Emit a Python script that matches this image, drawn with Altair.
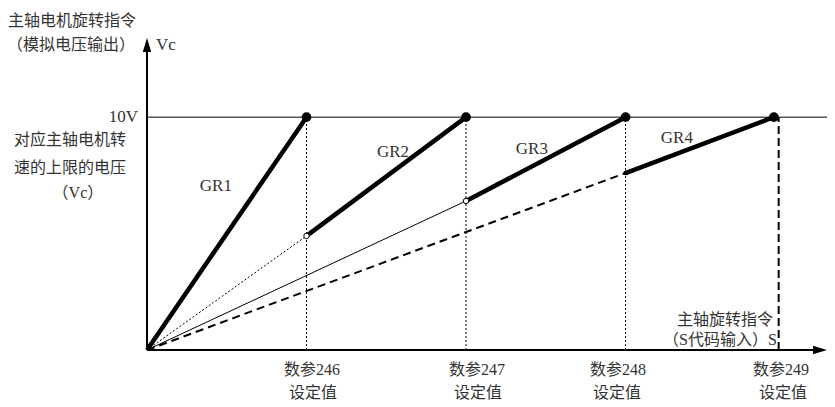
import altair as alt
import pandas as pd

# ---- data (x: spindle speed units, y: volts) ----
setting_labels = ["数参246", "数参247", "数参248", "数参249"]
setting_x = [1000, 2000, 3000, 3960]
gear_names = ["GR1", "GR2", "GR3", "GR4"]
gear_start_x = [0, 1000, 2000, 3000]
gear_end_x = [1000, 2000, 3000, 3930]
gear_start_v = [0.0, 4.9, 6.4, 7.6]
v_top = 10
x_max = 4263
y_max = 13.4

gear_label_x = [432, 1542, 2413, 3322]
gear_label_v = [7.04, 8.5, 8.63, 9.1]
setting_label_x = [1034, 2069, 2952, 3974]
setting_sub_x = [1040, 2075, 2946, 3987]

FONT = "Liberation Serif, Noto Sans CJK SC"

xs = alt.Scale(domain=[0, x_max], nice=False, zero=False)
ys = alt.Scale(domain=[0, y_max], nice=False, zero=False)


def enc_seg(ch):
    return ch.encode(
        x=alt.X("x:Q", scale=xs, axis=None),
        y=alt.Y("y:Q", scale=ys, axis=None),
        x2="x2:Q",
        y2="y2:Q",
    )


# gear segments
gears = pd.DataFrame({
    "x": gear_start_x, "y": gear_start_v,
    "x2": gear_end_x, "y2": [v_top] * 4,
})

# guide lines from origin
guides = pd.DataFrame({
    "x": [0, 0, 0], "y": [0, 0, 0],
    "x2": gear_start_x[1:], "y2": gear_start_v[1:],
    "style": ["dot", "thin", "dash"],
})

verts = pd.DataFrame({
    "x": setting_x, "y": [0] * 4, "x2": setting_x, "y2": [v_top] * 4,
    "style": ["dot", "dot", "dot", "dash"],
})

top_line = pd.DataFrame({"x": [0], "y": [v_top], "x2": [x_max], "y2": [v_top]})
axes = pd.DataFrame({"x": [0, 0], "y": [0, 0], "x2": [0, x_max - 60], "y2": [y_max - 0.4, 0]})

layers = []
layers.append(enc_seg(alt.Chart(top_line).mark_rule(color="#555555", strokeWidth=1.5)))
layers.append(enc_seg(alt.Chart(verts[verts["style"] == "dot"]).mark_rule(
    color="black", strokeWidth=1, strokeDash=[2, 2])))
layers.append(enc_seg(alt.Chart(verts[verts["style"] == "dash"]).mark_rule(
    color="black", strokeWidth=2, strokeDash=[8, 4])))
layers.append(enc_seg(alt.Chart(guides[guides["style"] == "dot"]).mark_rule(
    color="black", strokeWidth=1, strokeDash=[2, 2])))
layers.append(enc_seg(alt.Chart(guides[guides["style"] == "thin"]).mark_rule(
    color="black", strokeWidth=1)))
layers.append(enc_seg(alt.Chart(guides[guides["style"] == "dash"]).mark_rule(
    color="black", strokeWidth=2, strokeDash=[8, 5])))
layers.append(enc_seg(alt.Chart(gears).mark_rule(color="black", strokeWidth=4.5)))
layers.append(enc_seg(alt.Chart(axes).mark_rule(color="black", strokeWidth=2)))

# arrow heads
arr_up = pd.DataFrame({"x": [0], "y": [y_max]})
arr_right = pd.DataFrame({"x": [x_max], "y": [0]})
layers.append(alt.Chart(arr_up).mark_point(
    shape="M0,0L0.6,2L-0.6,2Z", size=196, filled=True, color="black", opacity=1
).encode(x=alt.X("x:Q", scale=xs, axis=None), y=alt.Y("y:Q", scale=ys, axis=None)))
layers.append(alt.Chart(arr_right).mark_point(
    shape="M0,0L-2,-0.6L-2,0.6Z", size=196, filled=True, color="black", opacity=1
).encode(x=alt.X("x:Q", scale=xs, axis=None), y=alt.Y("y:Q", scale=ys, axis=None)))

# end dots
ends = pd.DataFrame({"x": gear_end_x, "y": [v_top] * 4})
layers.append(alt.Chart(ends).mark_point(
    shape="circle", size=95, filled=True, color="black", opacity=1
).encode(x=alt.X("x:Q", scale=xs, axis=None), y=alt.Y("y:Q", scale=ys, axis=None)))
opens = pd.DataFrame({"x": gear_start_x[1:3], "y": gear_start_v[1:3]})
layers.append(alt.Chart(opens).mark_point(
    shape="circle", size=30, filled=True, fill="white", stroke="black", strokeWidth=1, opacity=1
).encode(x=alt.X("x:Q", scale=xs, axis=None), y=alt.Y("y:Q", scale=ys, axis=None)))
small = pd.DataFrame({"x": gear_start_x[3:], "y": gear_start_v[3:]})
layers.append(alt.Chart(small).mark_point(
    shape="circle", size=20, filled=True, color="black", opacity=1
).encode(x=alt.X("x:Q", scale=xs, axis=None), y=alt.Y("y:Q", scale=ys, axis=None)))

# texts
center_txt = pd.DataFrame({
    "x": [-470, -476, -483, -483, -433] + setting_label_x + setting_sub_x,
    "y": [14.13, 13.10, 9.02, 7.82, 6.74] + [-0.86] * 4 + [-1.85] * 4,
    "t": ["主轴电机旋转指令", "（模拟电压输出）", "对应主轴电机转", "速的上限的电压", "（Vc）"]
         + setting_labels + ["设定值"] * 4,
})
gear_txt = pd.DataFrame({"x": gear_label_x, "y": gear_label_v, "t": gear_names})
right_txt = pd.DataFrame({
    "x": [-56, 3924, 3949], "y": [10.0, 1.29, 0.43],
    "t": ["10V", "主轴旋转指令", "（S代码输入）S"],
    "s": [17, 16, 16],
})
left_txt = pd.DataFrame({"x": [56], "y": [13.10], "t": ["Vc"]})


def txt(df, **kw):
    return alt.Chart(df).mark_text(font=FONT, color="#333333", baseline="middle", **kw).encode(
        x=alt.X("x:Q", scale=xs, axis=None),
        y=alt.Y("y:Q", scale=ys, axis=None),
        text="t:N",
    )


layers.append(txt(center_txt, align="center", fontSize=16))
layers.append(txt(gear_txt, align="center", fontSize=17))
layers.append(txt(right_txt[right_txt["s"] == 17], align="right", fontSize=17))
layers.append(txt(right_txt[right_txt["s"] == 16], align="right", fontSize=16))
layers.append(txt(left_txt, align="left", fontSize=17))

chart = alt.layer(*layers).properties(
    width=680,
    height=312,
    autosize=alt.AutoSizeParams(type="none"),
    padding={"left": 139, "top": 30, "right": 0, "bottom": 57},
    background="white",
).configure_view(stroke=None)

chart.save("out.html", embed_options={"renderer": "svg", "actions": False})
